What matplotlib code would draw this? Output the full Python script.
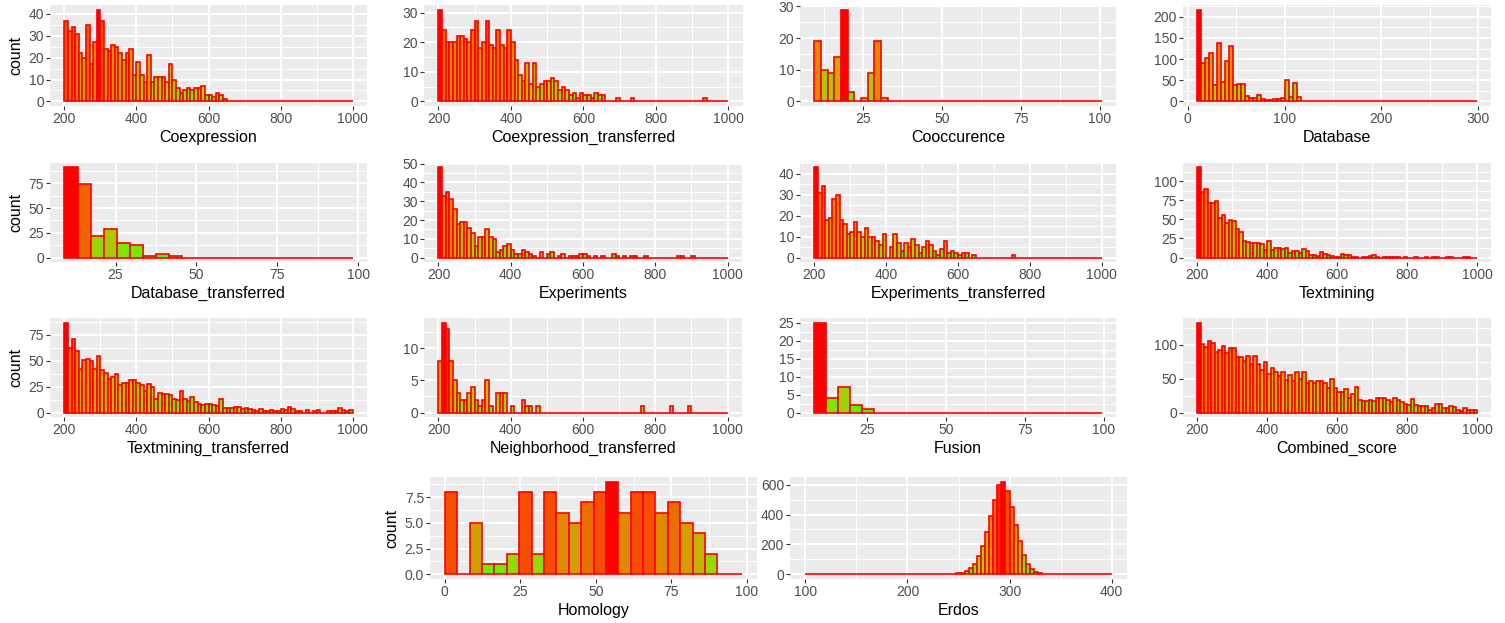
import numpy as np
import matplotlib.pyplot as plt
from matplotlib.colors import ListedColormap
from matplotlib.ticker import MultipleLocator, AutoMinorLocator, FormatStrFormatter

# ---- data: counts per bin ----
coexpression = [37, 32, 34, 31, 22, 20, 35, 17, 27, 42, 37, 24, 23, 26, 25, 22, 19, 22, 24, 12,
                18, 12, 9, 21, 9, 11, 11, 11, 9, 17, 10, 6, 4, 5, 6, 5, 6, 6, 7, 3,
                3, 2, 4, 3, 1] + [0] * 35
coexpression_tr = [31, 24, 20, 20, 20, 22, 22, 21, 20, 24, 27, 18, 20, 27, 19, 18, 24, 19, 18, 24,
                   20, 14, 9, 7, 13, 6, 13, 5, 6, 7, 7, 8, 7, 4, 5, 4, 2, 3, 1, 3,
                   2, 2, 1, 3, 2, 2, 0, 0, 0, 1, 0, 0, 0, 1, 0, 0, 0, 0, 0, 0,
                   0, 0, 0, 0, 0, 0, 0, 0, 0, 0, 0, 0, 0, 1, 0, 0, 0, 0, 0, 0]
cooccurence = [19, 10, 9, 14, 29, 3, 0, 1, 9, 19, 1] + [0] * 32
database = [217, 90, 103, 114, 39, 137, 46, 95, 132, 38, 40, 42, 12, 7, 7, 16, 5, 3, 3, 5,
            6, 9, 50, 10, 44, 10, 1, 0, 1, 1, 0, 1, 1, 2] + [0] * 36
database_tr = [91, 74, 22, 29, 15, 13, 2, 4, 2] + [0] * 13
experiments = [48, 33, 35, 31, 26, 18, 19, 19, 16, 13, 6, 11, 11, 15, 11, 10, 3, 4, 6, 7,
               4, 2, 2, 4, 3, 2, 1, 0, 3, 0, 2, 3, 0, 1, 2, 0, 1, 1, 1, 2,
               2, 1, 0, 1, 0, 1, 0, 0, 2, 1, 0, 1, 0, 1, 1, 0, 0, 1, 0, 0,
               0, 0, 0, 0, 0, 0, 1, 1, 0, 0, 1, 0, 0, 0, 0, 0, 0, 0, 0, 0]
experiments_tr = [43, 31, 34, 18, 19, 28, 30, 18, 16, 11, 12, 17, 12, 10, 14, 10, 10, 8, 6, 11,
                  0, 5, 11, 7, 3, 7, 5, 9, 6, 2, 5, 8, 6, 3, 1, 4, 8, 2, 3, 2,
                  1, 2, 2, 0, 1, 0, 0, 0, 0, 0, 0, 0, 0, 0, 0, 1, 0, 0, 0, 0,
                  0, 0, 0, 0, 0, 0, 0, 0, 0, 0, 0, 0, 0, 0, 0, 0, 0, 0, 0, 0]
textmining = [118, 86, 90, 71, 71, 74, 52, 56, 45, 49, 48, 37, 33, 22, 20, 19, 19, 19, 18, 10,
              22, 10, 12, 12, 11, 13, 6, 8, 8, 6, 11, 8, 3, 3, 2, 7, 5, 3, 2, 1,
              1, 4, 3, 3, 1, 1, 0, 1, 1, 2, 3, 1, 0, 1, 1, 1, 1, 1, 0, 1,
              0, 0, 1, 0, 0, 1, 0, 1, 1, 0, 0, 1, 1, 0, 0, 0, 1, 1, 0, 0]
textmining_tr = [87, 62, 71, 59, 42, 51, 52, 50, 42, 55, 41, 38, 32, 34, 37, 27, 29, 29, 31, 31,
                 29, 27, 21, 28, 25, 13, 19, 18, 18, 17, 13, 12, 21, 13, 11, 15, 10, 8, 7, 8,
                 8, 7, 6, 13, 4, 4, 4, 5, 5, 3, 4, 3, 2, 1, 3, 1, 1, 2, 1, 1,
                 3, 2, 5, 3, 1, 1, 0, 2, 0, 1, 2, 0, 0, 1, 1, 1, 4, 2, 1, 2]
neighborhood_tr = [8, 14, 13, 8, 5, 3, 2, 2, 3, 4, 2, 1, 2, 5, 1, 0, 3, 3, 3, 0,
                   1, 0, 0, 2, 1, 1, 0, 1, 0, 0, 0, 0, 0, 0, 0, 0, 0, 0, 0, 0,
                   0, 0, 0, 0, 0, 0, 0, 0, 0, 0, 0, 0, 0, 0, 0, 0, 1, 0, 0, 0,
                   0, 0, 0, 0, 1, 0, 0, 0, 0, 1, 0, 0, 0, 0, 0, 0, 0, 0, 0, 0]
fusion = [25, 4, 7, 2, 1] + [0] * 19
combined = [133, 101, 97, 106, 103, 89, 93, 99, 88, 95, 95, 82, 82, 76, 84, 72, 84, 71, 63, 75,
            57, 66, 60, 54, 60, 48, 56, 47, 60, 50, 60, 44, 47, 43, 47, 47, 44, 36, 49, 36,
            31, 31, 34, 21, 27, 38, 18, 17, 17, 18, 17, 21, 22, 22, 18, 16, 22, 18, 15, 13,
            11, 20, 11, 10, 9, 9, 3, 6, 12, 12, 6, 7, 9, 8, 4, 2, 7, 4, 4, 4]
homology = [8, 0, 5, 1, 1, 2, 8, 2, 8, 6, 5, 7, 8, 9, 6, 8, 8, 6, 7, 5, 4, 2, 0, 0]
erdos = [0] * 35 + [1, 3, 6, 12, 22, 40, 70, 120, 190, 280, 390, 500, 600, 620, 560, 450, 330,
                    220, 130, 70, 35, 16, 7, 3, 1, 1] + [0] * 14

names = ["Coexpression", "Coexpression_transferred", "Cooccurence", "Database",
         "Database_transferred", "Experiments", "Experiments_transferred", "Textmining",
         "Textmining_transferred", "Neighborhood_transferred", "Fusion", "Combined_score",
         "Homology", "Erdos"]
series = [coexpression, coexpression_tr, cooccurence, database, database_tr, experiments,
          experiments_tr, textmining, textmining_tr, neighborhood_tr, fusion, combined,
          homology, erdos]
# data range covered by the bins
ranges = [(200, 1000), (200, 1000), (9.6, 100.6), (9.6, 298.7), (9.2, 98.3), (200, 1000),
          (200, 1000), (200, 1000), (200, 1000), (200, 1000), (8.3, 99.4), (200, 1000),
          (0, 98.4), (100, 400)]

# ---- layout / style ----
W, H = 1505, 623
# pixel boxes: left, top, right, bottom
boxes = [(50, 5, 367, 106), (424, 5, 743, 106), (800, 5, 1116, 106), (1183, 5, 1491, 106),
         (50, 163, 367, 262), (424, 163, 742, 262), (800, 163, 1116, 262), (1183, 163, 1491, 262),
         (50, 318, 367, 417), (424, 318, 742, 417), (800, 318, 1116, 417), (1183, 318, 1491, 417),
         (430, 477, 757, 579), (790, 477, 1127, 579)]
xsteps = [200, 200, 25, 100, 25, 200, 200, 200, 200, 200, 25, 200, 25, 100]
ysteps = [10, 10, 10, 50, 25, 10, 10, 25, 25, 5, 5, 50, 2.5, 200]
with_ylabel = {0, 4, 8, 12}


# ggplot-like green -> red gradient interpolated in Lab space
M = np.array([[0.4124, 0.3576, 0.1805], [0.2126, 0.7152, 0.0722], [0.0193, 0.1192, 0.9505]])
WHITE = np.array([0.95047, 1.0, 1.08883])


def to_lab(rgb):
    c = np.asarray(rgb, float)
    c = np.where(c > 0.04045, ((c + 0.055) / 1.055) ** 2.4, c / 12.92)
    xyz = M @ c / WHITE
    f = np.where(xyz > 0.008856, np.cbrt(xyz), 7.787 * xyz + 16 / 116)
    return np.array([116 * f[1] - 16, 500 * (f[0] - f[1]), 200 * (f[1] - f[2])])


def from_lab(lab):
    L, a, b = lab
    fy = (L + 16) / 116
    f = np.array([fy + a / 500, fy, fy - b / 200])
    xyz = np.where(f ** 3 > 0.008856, f ** 3, (f - 16 / 116) / 7.787) * WHITE
    c = np.clip(np.linalg.solve(M, xyz), 0, None)
    c = np.where(c > 0.0031308, 1.055 * c ** (1 / 2.4) - 0.055, 12.92 * c)
    return np.clip(c, 0, 1)


lo_lab, hi_lab = to_lab([0, 1, 0]), to_lab([1, 0, 0])
cmap = ListedColormap([from_lab(lo_lab + t * (hi_lab - lo_lab)) for t in np.linspace(0, 1, 256)])

plt.rcParams['font.family'] = ['Liberation Sans', 'DejaVu Sans']

fig = plt.figure(figsize=(W / 100, H / 100), dpi=100)

for i, (name, counts, (lo, hi)) in enumerate(zip(names, series, ranges)):
    l, t, r, b = boxes[i]
    ax = fig.add_axes([l / W, 1 - b / H, (r - l) / W, (b - t) / H])
    counts = np.array(counts, float)
    edges = np.linspace(lo, hi, len(counts) + 1)
    ax.bar(edges[:-1], counts, width=np.diff(edges), align='edge',
           color=cmap(counts / counts.max()), edgecolor='red', linewidth=1.2, zorder=3)
    span = hi - lo
    ax.set_xlim(lo - 0.05 * span, hi + 0.05 * span)
    ax.set_ylim(-0.05 * counts.max(), 1.05 * counts.max())

    ax.set_facecolor('#EBEBEB')
    for s in ax.spines.values():
        s.set_visible(False)
    ax.xaxis.set_major_locator(MultipleLocator(xsteps[i]))
    ax.yaxis.set_major_locator(MultipleLocator(ysteps[i]))
    ax.xaxis.set_minor_locator(AutoMinorLocator(2))
    ax.yaxis.set_minor_locator(AutoMinorLocator(2))
    if ysteps[i] < 5:
        ax.yaxis.set_major_formatter(FormatStrFormatter('%.1f'))
    else:
        ax.yaxis.set_major_formatter(FormatStrFormatter('%d'))
    ax.xaxis.set_major_formatter(FormatStrFormatter('%d'))
    ax.grid(which='major', color='white', linewidth=1.4, zorder=0)
    ax.grid(which='minor', color='white', linewidth=0.7, zorder=0)
    ax.set_axisbelow(True)
    ax.tick_params(which='major', length=2.75, width=0.8, color='#333333',
                   labelsize=10, labelcolor='#4D4D4D', pad=1.5)
    ax.tick_params(which='minor', length=0)

    ax.set_xlabel(name, fontsize=11.5, color='black', labelpad=3)
    if i in with_ylabel:
        ax.set_ylabel('count', fontsize=11.5, color='black', labelpad=4)

fig.savefig('out.png', dpi=100)
